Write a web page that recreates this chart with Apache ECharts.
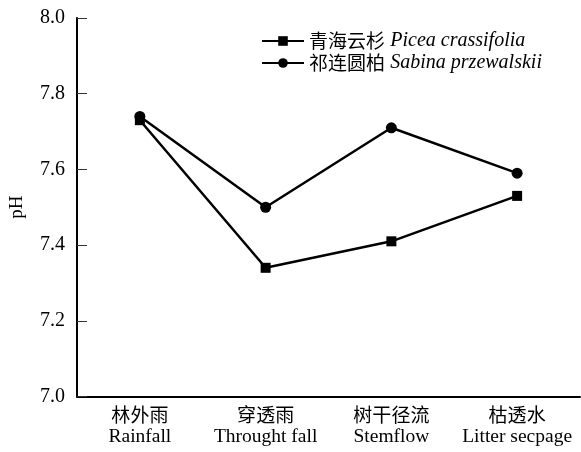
<!DOCTYPE html>
<html>
<head>
<meta charset="utf-8">
<script src="https://cdn.jsdelivr.net/npm/echarts@6/dist/echarts.min.js"></script>
<style>
  html, body { margin: 0; padding: 0; background: #fff; }
  #chart { width: 581px; height: 452px; }
</style>
</head>
<body>
<div id="chart"></div>
<script>
// Water types along the canopy flow path
const categoriesZh = ['林外雨', '穿透雨', '树干径流', '枯透水'];
const categoriesEn = ['Rainfall', 'Throught fall', 'Stemflow', 'Litter secpage'];

// pH by tree species
const piceaValues = [7.73, 7.34, 7.41, 7.53];
const sabinaValues = [7.74, 7.50, 7.71, 7.59];

const seriesNamesZh = ['青海云杉', '祁连圆柏'];
const seriesNamesLatin = ['Picea crassifolia', 'Sabina przewalskii'];

const yTicks = [7.0, 7.2, 7.4, 7.6, 7.8, 8.0];

const serif = '"Liberation Serif", "Times New Roman", "Noto Sans CJK SC", serif';
const cjk = '"Noto Sans CJK SC", "Liberation Serif", serif';

const chart = echarts.init(document.getElementById('chart'));

const seriesLabel = {};
seriesNamesZh.forEach((n, i) => { seriesLabel[n] = seriesNamesLatin[i]; });

chart.setOption({
  animation: false,
  backgroundColor: '#fff',
  grid: { left: 76, right: 1, top: 18, bottom: 55.5, containLabel: false },
  legend: {
    orient: 'vertical',
    left: 256,
    top: 26,
    itemWidth: 42,
    itemHeight: 12,
    itemGap: 2,
    data: seriesNamesZh,
    formatter: name => '{zh|' + name + '} {la|' + seriesLabel[name] + '}',
    textStyle: {
      color: '#000',
      fontSize: 19,
      rich: {
        zh: { fontFamily: cjk, fontSize: 19, color: '#000', lineHeight: 20 },
        la: { fontFamily: serif, fontStyle: 'italic', fontSize: 20, color: '#000', lineHeight: 20 }
      }
    }
  },
  xAxis: {
    type: 'category',
    data: categoriesZh,
    boundaryGap: true,
    axisLine: { lineStyle: { color: '#000', width: 2 } },
    axisTick: { alignWithLabel: true, inside: true, length: 10, lineStyle: { color: '#000', width: 1 } },
    axisLabel: {
      margin: 7,
      interval: 0,
      formatter: (v, i) => '{zh|' + v + '}\n{en|' + categoriesEn[i] + '}',
      rich: {
        zh: { fontFamily: cjk, fontSize: 19, color: '#000', lineHeight: 22 },
        en: { fontFamily: serif, fontSize: 19.5, color: '#000', lineHeight: 22 }
      }
    },
    splitLine: { show: false }
  },
  yAxis: {
    type: 'value',
    min: yTicks[0],
    max: yTicks[yTicks.length - 1],
    interval: 0.2,
    name: 'pH',
    nameLocation: 'middle',
    nameGap: 50,
    nameRotate: 90,
    nameTextStyle: { fontFamily: serif, fontSize: 19, color: '#000' },
    axisLine: { show: true, lineStyle: { color: '#000', width: 2 } },
    axisTick: { show: true, inside: true, length: 10, lineStyle: { color: '#333', width: 1 } },
    axisLabel: {
      margin: 12,
      fontFamily: serif,
      fontSize: 20,
      color: '#000',
      formatter: v => v.toFixed(1)
    },
    splitLine: { show: false }
  },
  series: [
    {
      name: seriesNamesZh[0],
      type: 'line',
      data: piceaValues,
      symbol: 'rect',
      symbolSize: 10,
      lineStyle: { color: '#000', width: 2.5 },
      itemStyle: { color: '#000' }
    },
    {
      name: seriesNamesZh[1],
      type: 'line',
      data: sabinaValues,
      symbol: 'circle',
      symbolSize: 11,
      lineStyle: { color: '#000', width: 2.5 },
      itemStyle: { color: '#000' }
    }
  ]
});
</script>
</body>
</html>
